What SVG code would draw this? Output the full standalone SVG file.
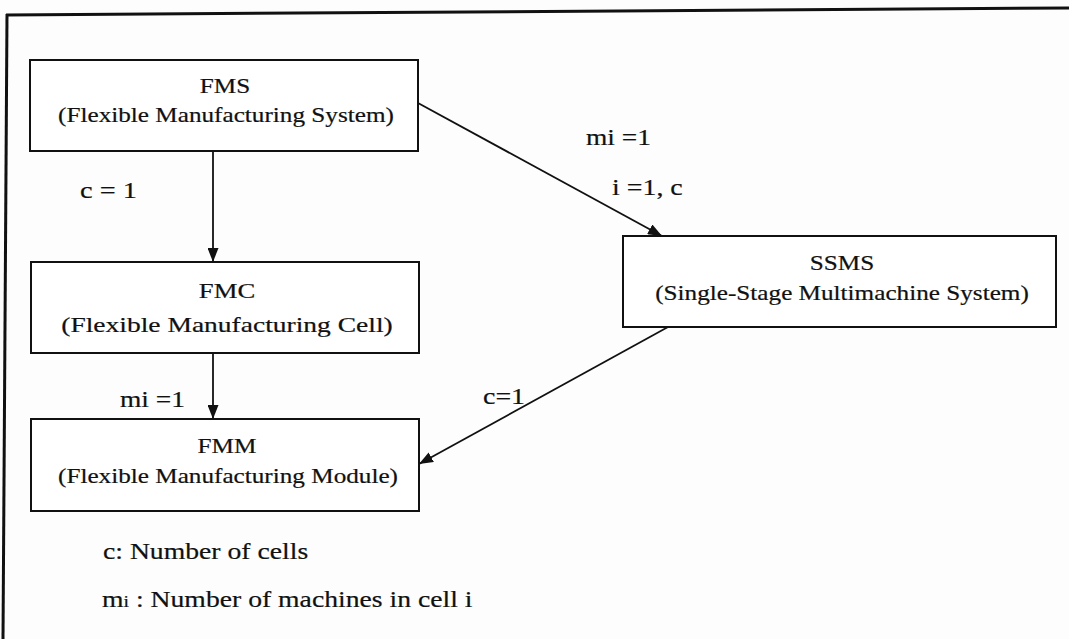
<svg xmlns="http://www.w3.org/2000/svg" width="1069" height="639" viewBox="0 0 1069 639">
  <defs>
    <style>
      .box { fill: #ffffff; stroke: #111; stroke-width: 2; }
      .lbl { font-family: "Liberation Serif", "Times New Roman", serif; font-size: 21px; fill: #111; stroke: #111; stroke-width: 0.2; }
      .big { font-size: 22.5px; }
      .edge { fill: none; stroke: #111; stroke-width: 1.8; marker-end: url(#arrow); }
      .frame { stroke: #111; stroke-width: 3; fill: none; }
    </style>
    <marker id="arrow" viewBox="0 0 14 11" refX="14" refY="5.5" markerWidth="14" markerHeight="11" markerUnits="userSpaceOnUse" orient="auto">
      <path d="M0,0 L14,5.5 L0,11 z" fill="#111"/>
    </marker>
  </defs>

  <rect width="1069" height="639" fill="#fdfdfd"/>

  <!-- outer frame (top and left edges) -->
  <g id="frame">
    <line class="frame" x1="6" y1="15" x2="1069" y2="8"/>
    <line class="frame" x1="7" y1="14" x2="3" y2="639"/>
  </g>

  <!-- connectors and their labels; type is set wide -->
  <g id="connectors">
    <line class="edge" x1="213" y1="151" x2="213" y2="262"/>
    <line class="edge" x1="213" y1="353" x2="213" y2="419"/>
    <line class="edge" x1="418" y1="103" x2="662" y2="236"/>
    <line class="edge" x1="668" y1="327" x2="419" y2="464"/>
    <text class="lbl big" transform="translate(80 198) scale(1.26 1)">c = 1</text>
    <text class="lbl big" transform="translate(586 145) scale(1.22 1)">mi =1</text>
    <text class="lbl big" transform="translate(612 195) scale(1.24 1)">i =1, c</text>
    <text class="lbl big" transform="translate(120 407) scale(1.22 1)">mi =1</text>
    <text class="lbl big" transform="translate(483 404) scale(1.24 1)">c=1</text>
  </g>

  <g id="fms">
    <rect class="box" x="30" y="60" width="388" height="91"/>
    <text class="lbl" text-anchor="middle" transform="translate(225 93) scale(1.2 1)">FMS</text>
    <text class="lbl" text-anchor="middle" transform="translate(226 122) scale(1.2 1)">(Flexible Manufacturing System)</text>
  </g>

  <g id="fmc">
    <rect class="box" x="31" y="262" width="388" height="91"/>
    <text class="lbl" text-anchor="middle" transform="translate(227 298) scale(1.27 1)">FMC</text>
    <text class="lbl" text-anchor="middle" transform="translate(227 332) scale(1.31 1)">(Flexible Manufacturing Cell)</text>
  </g>

  <g id="fmm">
    <rect class="box" x="31" y="419" width="388" height="92"/>
    <text class="lbl" text-anchor="middle" transform="translate(227 453) scale(1.2 1)">FMM</text>
    <text class="lbl" text-anchor="middle" transform="translate(228 483) scale(1.2 1)">(Flexible Manufacturing Module)</text>
  </g>

  <g id="ssms">
    <rect class="box" x="623" y="236" width="433" height="91"/>
    <text class="lbl" text-anchor="middle" transform="translate(842 270) scale(1.2 1)">SSMS</text>
    <text class="lbl" text-anchor="middle" transform="translate(842 300) scale(1.2 1)">(Single-Stage Multimachine System)</text>
  </g>

  <!-- legend -->
  <g id="legend">
    <text class="lbl big" transform="translate(103 559) scale(1.23 1)">c: Number of cells</text>
    <text class="lbl big" transform="translate(102 607) scale(1.23 1)">m<tspan font-size="16">i</tspan> : Number of machines in cell i</text>
  </g>
</svg>
